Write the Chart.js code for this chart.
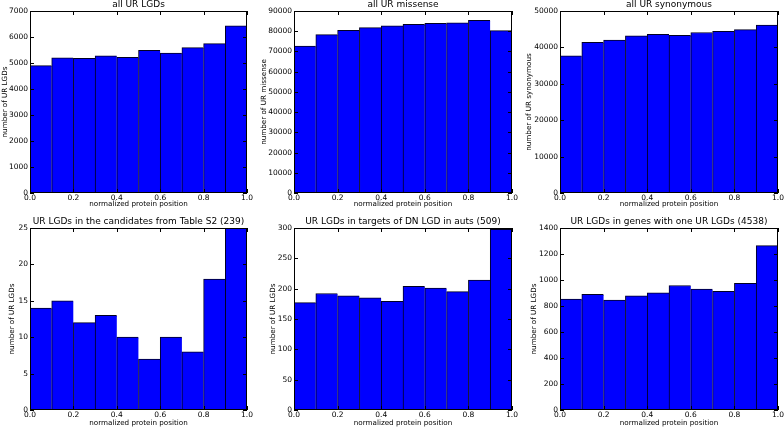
<!DOCTYPE html>
<html>
<head>
<meta charset="utf-8">
<script src="https://cdn.jsdelivr.net/npm/chart.js@4/dist/chart.umd.min.js"></script>
<style>
  body { margin: 0; background: #fff; }
  #wrap { position: relative; width: 784px; height: 429px; }
  canvas { position: absolute; }
</style>
</head>
<body>
<div id="wrap"></div>
<script>
// histogram bins (normalized protein position)
const binEdges = [0, 0.1, 0.2, 0.3, 0.4, 0.5, 0.6, 0.7, 0.8, 0.9, 1.0];

// counts per bin
const allLGDs      = [4900, 5200, 5180, 5280, 5220, 5490, 5385, 5590, 5745, 6430];
const allMissense  = [72700, 78300, 80400, 81800, 82700, 83400, 83900, 84200, 85400, 80300];
const allSynonymous = [37700, 41400, 42000, 43200, 43600, 43300, 44100, 44400, 44900, 46100];
const candidatesS2 = [14, 15, 12, 13, 10, 7, 10, 8, 18, 25];
const dnTargets    = [177, 192, 188, 185, 179, 204, 201, 195, 214, 298];
const oneLGDGenes  = [853, 889, 845, 879, 902, 958, 930, 912, 974, 1264];

const panelTitles = [
    'all UR LGDs', 'all UR missense', 'all UR synonymous',
    'UR LGDs in the candidates from Table S2 (239)',
    'UR LGDs in targets of DN LGD in auts (509)',
    'UR LGDs in genes with one UR LGDs (4538)'
];
const yTitles = [
    'number of UR LGDs', 'number of UR missense', 'number of UR synonymous',
    'number of UR LGDs', 'number of UR LGDs', 'number of UR LGDs'
];
const yMax  = [7000, 90000, 50000, 25, 300, 1400];
const yStep = [1000, 10000, 10000, 5, 50, 200];
const panelData = [allLGDs, allMissense, allSynonymous, candidatesS2, dnTargets, oneLGDGenes];

const xTickStep = 0.2;

// canvas placement: [left, top, width, height, yAxisWidth, rightPad, yTitleOffset]
const boxes = [
    [0,   0,   260, 210, 30, 13, 1.4],
    [260, 0,   260, 210, 34, 8,  0.4],
    [520, 0,   264, 210, 40, 6,  5.4],
    [0,   216, 260, 213, 30, 13, 9.0],
    [260, 216, 260, 213, 34, 8,  10.0],
    [520, 216, 264, 213, 40, 6,  11.0]
];

const FONT = 'DejaVu Sans';

// matplotlib-like frame with inward ticks, title centred over the axes
const frameTicks = {
    id: 'frameTicks',
    afterDatasetsDraw(chart, args, opts) {
        const { ctx, chartArea: a, scales: { x, y } } = chart;
        ctx.save();
        ctx.strokeStyle = '#000';
        ctx.lineWidth = 1;
        ctx.beginPath();
        x.ticks.forEach(t => {
            const px = Math.round(x.getPixelForValue(t.value)) + 0.5;
            ctx.moveTo(px, a.bottom); ctx.lineTo(px, a.bottom - 4);
            ctx.moveTo(px, a.top); ctx.lineTo(px, a.top + 4);
        });
        y.ticks.forEach(t => {
            const py = Math.round(y.getPixelForValue(t.value)) + 0.5;
            ctx.moveTo(a.left, py); ctx.lineTo(a.left + 4, py);
            ctx.moveTo(a.right, py); ctx.lineTo(a.right - 4, py);
        });
        ctx.stroke();
        ctx.strokeRect(Math.round(a.left) + 0.5, Math.round(a.top) + 0.5,
                       Math.round(a.width) - 1, Math.round(a.height) - 1);

        ctx.fillStyle = '#000';
        ctx.font = '9px "' + FONT + '"';
        ctx.textAlign = 'center';
        ctx.textBaseline = 'middle';
        ctx.fillText(opts.text, (a.left + a.right) / 2, a.top - opts.gap);
        ctx.restore();
    }
};

const wrap = document.getElementById('wrap');

panelData.forEach((counts, i) => {
    const [left, top, w, h, yW, padR, yTitleOff] = boxes[i];
    const bottomRow = i >= 3;
    const canvas = document.createElement('canvas');
    canvas.width = w;
    canvas.height = h;
    canvas.style.left = left + 'px';
    canvas.style.top = top + 'px';
    wrap.appendChild(canvas);

    const points = counts.map((c, k) => ({ x: (binEdges[k] + binEdges[k + 1]) / 2, y: c }));

    new Chart(canvas.getContext('2d'), {
        type: 'bar',
        data: {
            datasets: [{
                data: points,
                backgroundColor: '#0000ff',
                borderColor: '#000022',
                borderWidth: { top: 1, left: 1, right: 0, bottom: 0 },
                borderSkipped: false,
                barPercentage: 1,
                categoryPercentage: 1
            }]
        },
        options: {
            responsive: false,
            animation: false,
            devicePixelRatio: 1,
            layout: { padding: { left: 0, right: padR, top: bottomRow ? 12 : 11, bottom: 0 } },
            plugins: {
                legend: { display: false },
                tooltip: { enabled: false },
                title: { display: false },
                frameTicks: { text: panelTitles[i], gap: bottomRow ? 6 : 6.5 }
            },
            scales: {
                x: {
                    type: 'linear',
                    min: 0,
                    max: 1,
                    offset: false,
                    grid: { display: false, drawTicks: false },
                    border: { display: false },
                    ticks: {
                        stepSize: xTickStep,
                        padding: 1,
                        maxRotation: 0,
                        color: '#000',
                        font: { family: FONT, size: 7.5 },
                        callback: v => v.toFixed(1)
                    },
                    title: {
                        display: true,
                        text: 'normalized protein position',
                        color: '#000',
                        font: { family: FONT, size: 7.2, lineHeight: 1 },
                        padding: { top: 0, bottom: 2.4 }
                    },
                    afterFit: s => { s.height = bottomRow ? 19 : 17; s.paddingLeft = 0; s.paddingRight = 0; }
                },
                y: {
                    min: 0,
                    max: yMax[i],
                    grid: { display: false, drawTicks: false },
                    border: { display: false },
                    ticks: {
                        stepSize: yStep[i],
                        padding: 2,
                        color: '#000',
                        font: { family: FONT, size: 7.5 },
                        callback: v => String(v)
                    },
                    title: {
                        display: true,
                        text: yTitles[i],
                        color: '#000',
                        font: { family: FONT, size: 7.2, lineHeight: 1 },
                        padding: { top: yTitleOff, bottom: 0 }
                    },
                    afterFit: s => { s.width = yW; s.paddingTop = 0; s.paddingBottom = 0; }
                }
            }
        },
        plugins: [frameTicks]
    });
});
</script>
</body>
</html>
